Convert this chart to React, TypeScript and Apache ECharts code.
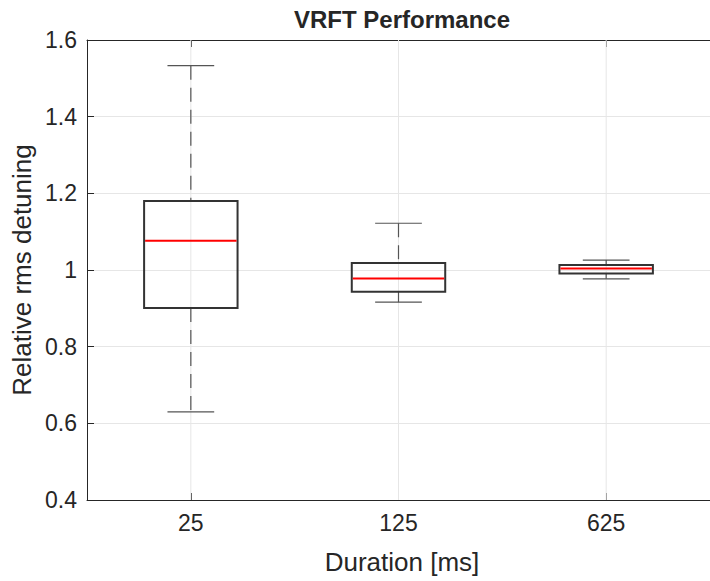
import React, { useEffect, useRef } from "react";
import * as echarts from "echarts";

const categories = ["25", "125", "625"];
const positions = [1, 2, 3];
const lowerWhisker = [0.63, 0.916, 0.977];
const q1 = [0.901, 0.943, 0.991];
const medians = [1.076, 0.978, 1.004];
const q3 = [1.18, 1.018, 1.013];
const upperWhisker = [1.533, 1.122, 1.026];
const yMin = 0.4;
const yMax = 1.6;
const yStep = 0.2;

const FONT = "'Liberation Sans', Arial, Helvetica, sans-serif";
const AX = "#262626";
const GRID = "#e6e6e6";

export default function App() {
  const ref = useRef<HTMLDivElement>(null);
  useEffect(() => {
    if (!ref.current) return;
    const chart = echarts.init(ref.current, undefined, { renderer: "svg" });
    const boxData = positions.map((p, i) => [p, lowerWhisker[i], q1[i], medians[i], q3[i], upperWhisker[i]]);
    const xAxisBase = {
      type: "value",
      min: 0.5,
      max: 3.5,
      axisLine: { show: true, lineStyle: { color: AX, width: 1 } },
      splitLine: { show: false },
    };
    chart.setOption({
      animation: false,
      backgroundColor: "#ffffff",
      grid: { left: 87, top: 40, width: 631, height: 460, containLabel: false },
      xAxis: [
        {
          ...xAxisBase,
          position: "bottom",
          axisTick: { show: true, inside: true, length: 7, customValues: positions, lineStyle: { color: AX } },
          axisLabel: {
            show: true,
            customValues: positions,
            formatter: (v: number) => categories[Math.round(v) - 1] ?? "",
            color: AX,
            fontSize: 23,
            fontFamily: FONT,
            margin: 11,
          },
        },
        {
          ...xAxisBase,
          position: "top",
          axisTick: { show: true, inside: true, length: 7, customValues: positions, lineStyle: { color: AX } },
          axisLabel: { show: false },
        },
      ],
      yAxis: {
        type: "value",
        min: yMin,
        max: yMax,
        interval: yStep,
        axisLine: { show: true, lineStyle: { color: AX, width: 1 } },
        axisTick: { show: true, inside: true, length: 7, lineStyle: { color: AX } },
        axisLabel: {
          color: AX,
          fontSize: 23,
          fontFamily: FONT,
          margin: 10,
          formatter: (v: number) => String(+v.toFixed(1)),
        },
        splitLine: { show: true, lineStyle: { color: GRID, width: 1 } },
      },
      series: [
        {
          type: "custom",
          xAxisIndex: 0,
          z: 1,
          silent: true,
          data: positions.map((p) => [p]),
          renderItem: (params: any, api: any) => {
            const x = api.value(0);
            const a = api.coord([x, yMin]);
            const b = api.coord([x, yMax]);
            return {
              type: "line",
              shape: { x1: a[0], y1: a[1], x2: b[0], y2: b[1] },
              style: { stroke: GRID, lineWidth: 1 },
            };
          },
        },
        {
          type: "custom",
          xAxisIndex: 0,
          z: 5,
          data: boxData,
          renderItem: (params: any, api: any) => {
            const x = api.value(0);
            const lo = api.coord([x, api.value(1)]);
            const b1 = api.coord([x, api.value(2)]);
            const med = api.coord([x, api.value(3)]);
            const b3 = api.coord([x, api.value(4)]);
            const hi = api.coord([x, api.value(5)]);
            const bw = api.size([0.45, 0])[0];
            const cw = bw / 2;
            const cx = lo[0];
            const whisk = { stroke: "#555555", lineWidth: 1.2, lineDash: [14, 8] };
            const cap = { stroke: "#555555", lineWidth: 1.2 };
            return {
              type: "group",
              children: [
                { type: "line", shape: { x1: cx, y1: hi[1], x2: cx, y2: b3[1] }, style: whisk },
                { type: "line", shape: { x1: cx, y1: b1[1], x2: cx, y2: lo[1] }, style: whisk },
                { type: "line", shape: { x1: cx - cw / 2, y1: hi[1], x2: cx + cw / 2, y2: hi[1] }, style: cap },
                { type: "line", shape: { x1: cx - cw / 2, y1: lo[1], x2: cx + cw / 2, y2: lo[1] }, style: cap },
                {
                  type: "rect",
                  shape: { x: cx - bw / 2, y: b3[1], width: bw, height: b1[1] - b3[1] },
                  style: { fill: "none", stroke: "#333333", lineWidth: 2 },
                },
                {
                  type: "line",
                  shape: { x1: cx - bw / 2 + 1, y1: med[1], x2: cx + bw / 2 - 1, y2: med[1] },
                  style: { stroke: "#ff0000", lineWidth: 2 },
                },
              ],
            };
          },
        },
      ],
      graphic: [
        {
          type: "text",
          x: 402,
          y: 19,
          style: {
            text: "VRFT Performance",
            font: `bold 24px ${FONT}`,
            fill: AX,
            align: "center",
            verticalAlign: "middle",
          },
        },
        {
          type: "text",
          x: 402,
          y: 562,
          style: {
            text: "Duration [ms]",
            font: `26px ${FONT}`,
            fill: AX,
            align: "center",
            verticalAlign: "middle",
          },
        },
        {
          type: "text",
          x: 22,
          y: 270,
          rotation: Math.PI / 2,
          style: {
            text: "Relative rms detuning",
            font: `26px ${FONT}`,
            fill: AX,
            align: "center",
            verticalAlign: "middle",
          },
        },
      ],
    });
    return () => chart.dispose();
  }, []);
  return <div ref={ref} style={{ width: 710, height: 581, position: "absolute", left: 0, top: 0 }} />;
}
